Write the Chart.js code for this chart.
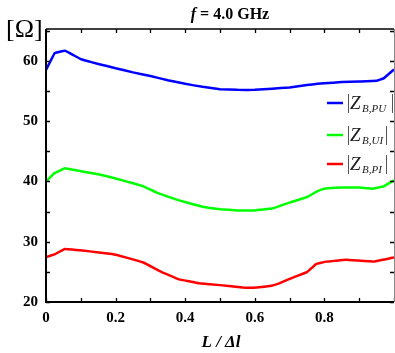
<!DOCTYPE html>
<html>
<head>
<meta charset="utf-8">
<script src="https://cdn.jsdelivr.net/npm/chart.js@4/dist/chart.umd.min.js"></script>
<style>
  html, body { margin: 0; padding: 0; background: #fff; overflow: hidden; }
  #wrap { width: 395px; height: 353px; overflow: hidden; position: relative; }
  #wrap canvas { position: absolute; left: 0; top: 0; }
</style>
</head>
<body>
<div id="wrap"><canvas id="c" width="420" height="353"></canvas></div>
<script>
// Normalised position along the line, L / Δl
const posPU = [0, 0.025, 0.055, 0.1, 0.15, 0.2, 0.25, 0.3, 0.35, 0.4, 0.45, 0.5, 0.55, 0.6, 0.65, 0.7, 0.75, 0.78, 0.8, 0.85, 0.9, 0.95, 0.97, 1.0];
const zPU   = [58.5, 61.3, 61.7, 60.3, 59.5, 58.8, 58.1, 57.5, 56.8, 56.2, 55.7, 55.3, 55.2, 55.2, 55.4, 55.6, 56.0, 56.2, 56.3, 56.5, 56.6, 56.7, 57.1, 58.6];

const posUI = [0, 0.025, 0.055, 0.1, 0.15, 0.2, 0.25, 0.28, 0.32, 0.38, 0.45, 0.5, 0.55, 0.6, 0.65, 0.7, 0.75, 0.78, 0.8, 0.85, 0.9, 0.94, 0.97, 1.0];
const zUI   = [40.0, 41.4, 42.2, 41.7, 41.2, 40.5, 39.7, 39.2, 38.1, 36.9, 35.8, 35.4, 35.2, 35.2, 35.5, 36.5, 37.4, 38.4, 38.8, 39.0, 39.0, 38.8, 39.2, 40.2];

const posPI = [0, 0.026, 0.054, 0.126, 0.19, 0.226, 0.28, 0.33, 0.38, 0.44, 0.5, 0.565, 0.605, 0.648, 0.67, 0.72, 0.75, 0.776, 0.805, 0.862, 0.943, 1.0];
const zPI   = [27.45, 27.95, 28.8, 28.4, 27.95, 27.45, 26.55, 25.05, 23.8, 23.1, 22.8, 22.4, 22.4, 22.7, 23.1, 24.3, 24.95, 26.3, 26.7, 27.0, 26.7, 27.4];

const seriesSubs   = ['B,PU', 'B,UI', 'B,PI'];
const seriesColors = ['#0000ff', '#00ff00', '#ff0000'];

const titleText = { italic: 'f', rest: ' = 4.0 GHz' };
const unitText = '[\u03A9]';
const xTitle = 'L / \u0394l';

const SERIF = '"Liberation Serif", "DejaVu Serif", serif';

function pts(xs, ys) { return xs.map((x, i) => ({ x: x, y: ys[i] })); }

// Frame, inward ticks on all four sides, title and axis captions
const framePlugin = {
  id: 'frame',
  afterDraw(chart) {
    const { ctx, chartArea: a, scales } = chart;
    const xs = scales.x, ys = scales.y;
    ctx.save();
    ctx.strokeStyle = '#000';
    // ticks
    ctx.lineWidth = 1.3;
    const tl = 4;
    xs.ticks.forEach(t => {
      const px = Math.round(xs.getPixelForValue(t.value)) + 0.5;
      ctx.beginPath();
      ctx.moveTo(px, a.bottom); ctx.lineTo(px, a.bottom - tl);
      ctx.moveTo(px, a.top); ctx.lineTo(px, a.top + tl);
      ctx.stroke();
    });
    ys.ticks.forEach(t => {
      const py = Math.round(ys.getPixelForValue(t.value)) + 0.5;
      ctx.beginPath();
      ctx.moveTo(a.left, py); ctx.lineTo(a.left + tl, py);
      ctx.moveTo(a.right, py); ctx.lineTo(a.right - tl, py);
      ctx.stroke();
    });
    // frame
    ctx.lineWidth = 2;
    ctx.beginPath();
    ctx.moveTo(a.left, a.top); ctx.lineTo(a.left, a.bottom); ctx.lineTo(a.right, a.bottom);
    ctx.stroke();
    ctx.lineWidth = 1.5;
    ctx.beginPath();
    ctx.moveTo(a.left, a.top); ctx.lineTo(a.right, a.top);
    ctx.stroke();
    ctx.strokeStyle = '#888';
    ctx.lineWidth = 1;
    ctx.beginPath();
    ctx.moveTo(a.right + 0.5, a.top); ctx.lineTo(a.right + 0.5, a.bottom);
    ctx.stroke();

    // title
    ctx.fillStyle = '#000';
    ctx.textBaseline = 'alphabetic';
    ctx.font = 'italic bold 16px ' + SERIF;
    const w1 = ctx.measureText(titleText.italic).width;
    ctx.font = 'bold 16px ' + SERIF;
    const w2 = ctx.measureText(titleText.rest).width;
    let tx = 230 - (w1 + w2) / 2;
    ctx.font = 'italic bold 16px ' + SERIF;
    ctx.fillText(titleText.italic, tx, 19);
    ctx.font = 'bold 16px ' + SERIF;
    ctx.fillText(titleText.rest, tx + w1, 19);

    // unit
    ctx.font = '26px ' + SERIF;
    ctx.textAlign = 'left';
    ctx.fillText(unitText, 6, 37);

    // x caption
    ctx.font = 'italic bold 17px ' + SERIF;
    ctx.textAlign = 'center';
    ctx.fillText(xTitle, 221, 347);

    // legend
    ctx.textAlign = 'left';
    const rows = [103, 135, 164];
    const closeX = [392, 386, 386];
    rows.forEach((cy, i) => {
      ctx.strokeStyle = seriesColors[i];
      ctx.lineWidth = 2.5;
      ctx.beginPath();
      ctx.moveTo(327, cy); ctx.lineTo(343, cy);
      ctx.stroke();
      ctx.strokeStyle = '#555';
      ctx.lineWidth = 1;
      ctx.beginPath();
      ctx.moveTo(348.5, cy - 9); ctx.lineTo(348.5, cy + 10);
      ctx.moveTo(closeX[i] + 0.5, cy - 9); ctx.lineTo(closeX[i] + 0.5, cy + 10);
      ctx.stroke();
      ctx.fillStyle = '#222';
      ctx.font = 'italic 19px ' + SERIF;
      ctx.fillText('Z', 350, cy + 6);
      ctx.font = 'italic 11px ' + SERIF;
      ctx.fillText(seriesSubs[i], 362, cy + 9);
    });
    ctx.restore();
  }
};

const mk = (label, xs, ys, color) => ({
  label: label,
  data: pts(xs, ys),
  borderColor: color,
  backgroundColor: color,
  borderWidth: 2.5,
  pointRadius: 0,
  tension: 0.05,
  borderJoinStyle: 'round',
  fill: false
});

new Chart(document.getElementById('c'), {
  type: 'line',
  data: {
    datasets: [
      mk('|Z B,PU|', posPU, zPU, seriesColors[0]),
      mk('|Z B,UI|', posUI, zUI, seriesColors[1]),
      mk('|Z B,PI|', posPI, zPI, seriesColors[2])
    ]
  },
  options: {
    responsive: false,
    animation: false,
    layout: { padding: { top: 29, right: 26, left: 0, bottom: 0 } },
    plugins: { legend: { display: false }, tooltip: { enabled: false }, title: { display: false } },
    scales: {
      x: {
        type: 'linear', min: 0, max: 1,
        grid: { display: false, drawTicks: false },
        border: { display: false },
        afterFit(s) { s.height = 51; },
        ticks: {
          stepSize: 0.1,
          maxRotation: 0,
          autoSkip: false,
          padding: 7,
          color: '#000',
          font: { family: SERIF, size: 15, weight: 'bold' },
          callback: v => {
            const r = Math.round(v * 10);
            return (r % 2 === 0 && r < 10) ? String(r / 10) : '';
          }
        }
      },
      y: {
        type: 'linear', min: 20, max: 65.3,
        grid: { display: false, drawTicks: false },
        border: { display: false },
        afterFit(s) { s.width = 46; },
        ticks: {
          stepSize: 5,
          includeBounds: false,
          autoSkip: false,
          padding: 8,
          color: '#000',
          font: { family: SERIF, size: 15, weight: 'bold' },
          callback: v => (v % 10 === 0 ? String(v) : '')
        }
      }
    }
  },
  plugins: [framePlugin]
});
</script>
</body>
</html>
